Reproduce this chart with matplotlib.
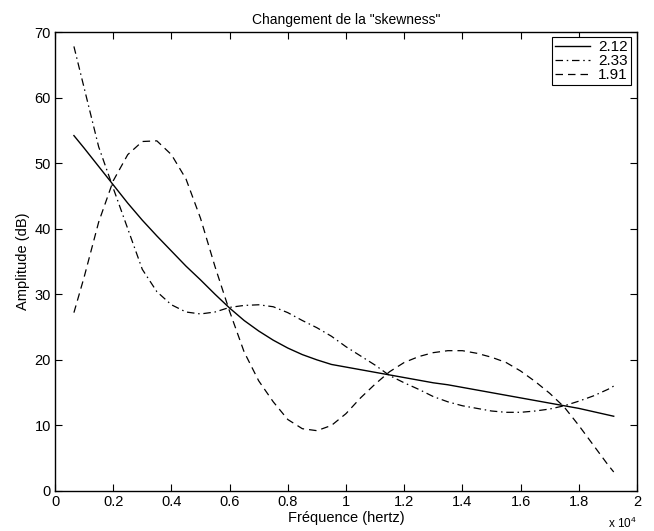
import matplotlib
matplotlib.use("Agg")
import matplotlib.pyplot as plt
from matplotlib.ticker import FuncFormatter, MultipleLocator

plt.rcParams['font.family'] = ['Liberation Sans', 'DejaVu Sans']
plt.rcParams['mathtext.default'] = 'regular'

# Frequency grid (Hz)
freq = [650, 1000, 1500, 2000, 2500, 3000, 3500, 4000, 4500, 5000,
        5500, 6000, 6500, 7000, 7500, 8000, 8500, 9000, 9500, 10000,
        10500, 11000, 11500, 12000, 12500, 13000, 13500, 14000, 14500, 15000,
        15500, 16000, 16500, 17000, 17500, 18000, 18500, 19000, 19200]

# skewness 2.12 (solid)
amp_212 = [54.2, 52.3, 49.5, 46.7, 43.9, 41.3, 38.9, 36.6, 34.3, 32.2,
           30.0, 27.9, 26.0, 24.4, 23.0, 21.8, 20.8, 20.0, 19.3, 18.9,
           18.5, 18.1, 17.7, 17.3, 16.9, 16.5, 16.2, 15.8, 15.4, 15.0,
           14.6, 14.2, 13.8, 13.4, 13.0, 12.6, 12.1, 11.6, 11.4]

# skewness 2.33 (dash-dot)
amp_233 = [67.8, 61.5, 52.5, 46.2, 40.0, 33.8, 30.4, 28.4, 27.3, 27.0,
           27.3, 28.0, 28.3, 28.4, 28.1, 27.2, 26.0, 24.9, 23.6, 22.0,
           20.6, 19.2, 17.6, 16.5, 15.5, 14.4, 13.6, 13.0, 12.6, 12.2,
           12.0, 12.0, 12.2, 12.5, 13.0, 13.7, 14.5, 15.5, 16.0]

# skewness 1.91 (dashed)
amp_191 = [27.2, 32.6, 41.0, 47.3, 51.3, 53.3, 53.4, 51.3, 47.6, 41.6,
           34.2, 27.4, 21.2, 16.8, 13.6, 10.9, 9.5, 9.2, 10.0, 11.8,
           14.2, 16.3, 18.2, 19.6, 20.5, 21.1, 21.4, 21.4, 21.0, 20.4,
           19.6, 18.3, 16.7, 14.9, 12.8, 10.0, 7.0, 4.0, 2.9]

labels = ['2.12', '2.33', '1.91']

fig = plt.figure(figsize=(6.54, 5.31), dpi=100)
ax = fig.add_axes([55/654, 40/531, 582/654, 459/531])

ax.plot(freq, amp_212, color='black', lw=1.0, ls='-', label=labels[0])
ax.plot(freq, amp_233, color='black', lw=0.9, ls=(0, (6, 3, 1.2, 3)), label=labels[1])
ax.plot(freq, amp_191, color='black', lw=0.9, ls=(0, (6, 4)), label=labels[2])

ax.set_xlim(0, 20000)
ax.set_ylim(0, 70)
ax.xaxis.set_major_locator(MultipleLocator(2000))
ax.yaxis.set_major_locator(MultipleLocator(10))
ax.xaxis.set_major_formatter(FuncFormatter(lambda v, p: f'{v/1e4:g}'))
ax.tick_params(direction='in', length=5, width=0.8, top=True, right=True,
               labelsize=10.5, pad=3)
for s in ax.spines.values():
    s.set_linewidth(1.0)

ax.text(1.0, -0.055, 'x 10$^{4}$', transform=ax.transAxes, ha='right', va='top',
        fontsize=8.5)

ax.set_xlabel('Fréquence (hertz)', fontsize=10.5, labelpad=1)
ax.set_ylabel('Amplitude (dB)', fontsize=10.5, labelpad=3)
ax.set_title('Changement de la "skewness"', fontsize=10, pad=6)

leg = ax.legend(loc='upper right', bbox_to_anchor=(0.989, 0.9885), fontsize=11,
                frameon=True, fancybox=False, edgecolor='black', framealpha=1,
                borderaxespad=0, handlelength=2.3, handletextpad=0.5,
                labelspacing=0.0, borderpad=0.2)
leg.get_frame().set_linewidth(0.8)

fig.savefig('out.png', dpi=100)
